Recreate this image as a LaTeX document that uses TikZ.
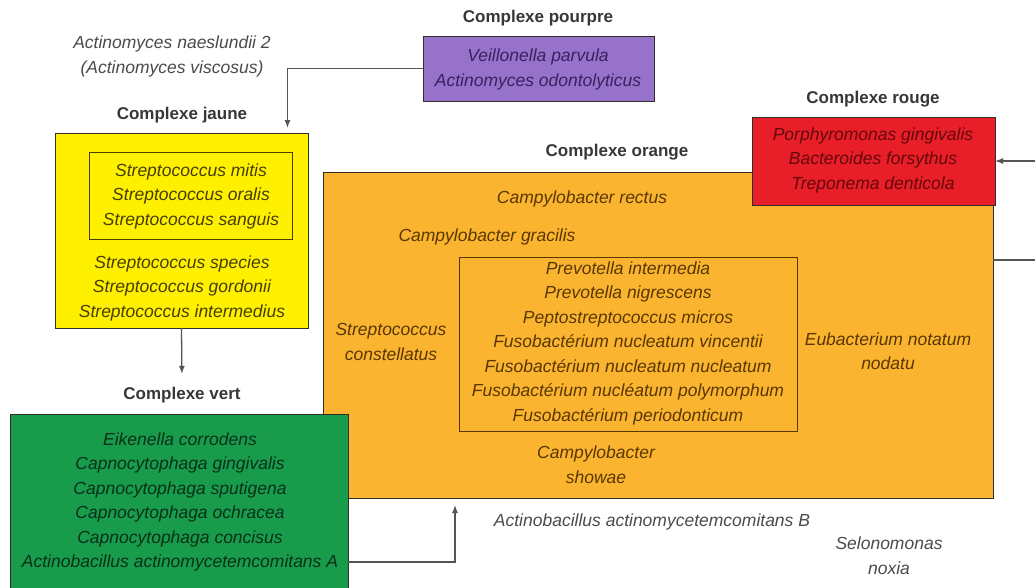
\documentclass[tikz,border=0pt]{standalone}
\usepackage{fontspec}
\setmainfont{Liberation Sans}
\usetikzlibrary{arrows.meta,calc}
\definecolor{cpurple}{RGB}{150,114,202}
\definecolor{cyellow}{RGB}{255,240,0}
\definecolor{corange}{RGB}{251,180,48}
\definecolor{cred}{RGB}{232,30,40}
\definecolor{cgreen}{RGB}{24,156,76}
\definecolor{tpurple}{RGB}{60,32,95}
\definecolor{tred}{RGB}{100,8,10}
\definecolor{tyellow}{RGB}{70,62,0}
\definecolor{torange}{RGB}{88,55,0}
\definecolor{tgreen}{RGB}{8,48,24}
\definecolor{tgray}{RGB}{75,75,75}
\definecolor{ttitle}{RGB}{55,55,55}
\definecolor{cborder}{RGB}{50,45,40}
\definecolor{cline}{RGB}{85,85,85}
\tikzset{
  box/.style={draw=cborder, line width=1pt, anchor=north west, inner sep=0pt, outer sep=0pt},
  lbl/.style={font=\fontsize{17.5}{24.5}\selectfont\itshape, align=center, inner sep=0pt},
  ttl/.style={font=\fontsize{17}{20}\selectfont\bfseries, text=ttitle, inner sep=0pt},
  conn/.style={draw=cline, line width=1.3pt, -{Latex[length=8pt,width=6pt]}},
  plain/.style={draw=cline, line width=1.3pt}
}
\begin{document}
\begin{tikzpicture}[x=1pt,y=-1pt]
\clip (0,0) rectangle (1035,587);
\fill[white] (0,0) rectangle (1035,587);

% boxes
\node[box, fill=cpurple, minimum width=231pt, minimum height=65pt] (pourpre) at (423,36) {};
\node[box, fill=cyellow, minimum width=253pt, minimum height=195pt] (jaune) at (55,133) {};
\node[box, draw=tyellow, line width=0.9pt, minimum width=203pt, minimum height=87pt] (jauneint) at (89,152) {};
\node[box, fill=corange, minimum width=670pt, minimum height=326pt] (orange) at (323,172) {};
\node[box, draw=torange, line width=0.9pt, minimum width=338pt, minimum height=174pt] (orangeint) at (459,257) {};
\node[box, fill=cred, minimum width=243pt, minimum height=88pt] (rouge) at (752,117) {};
\node[box, fill=cgreen, minimum width=338pt, minimum height=185pt] (vert) at (10,414) {};

% titles
\node[ttl] (tpourpre) at (538,18) {Complexe pourpre};
\node[ttl] (tjaune) at (182,115) {Complexe jaune};
\node[ttl] (torangeT) at (617,152) {Complexe orange};
\node[ttl] (trouge) at (873,99) {Complexe rouge};
\node[ttl] (tvert) at (182,395) {Complexe vert};

% texts
\node[lbl, text=tgray] (naes) at (172,56.5) {Actinomyces naeslundii 2\\(Actinomyces viscosus)};
\node[lbl, text=tpurple] (lpourpre) at (538,69.5) {Veillonella parvula\\Actinomyces odontolyticus};
\node[lbl, text=tyellow] (ljaune1) at (191,196) {Streptococcus mitis\\Streptococcus oralis\\Streptococcus sanguis};
\node[lbl, text=tyellow] (ljaune2) at (182,288) {Streptococcus species\\Streptococcus gordonii\\Streptococcus intermedius};
\node[lbl, text=tred] (lrouge) at (873,160) {Porphyromonas gingivalis\\Bacteroides forsythus\\Treponema denticola};
\node[lbl, text=torange] (lrectus) at (582,199) {Campylobacter rectus};
\node[lbl, text=torange] (lgracilis) at (487,237) {Campylobacter gracilis};
\node[lbl, text=torange] (linner) at (628,343) {Prevotella intermedia\\Prevotella nigrescens\\Peptostreptococcus micros\\Fusobactérium nucleatum vincentii\\Fusobactérium nucleatum nucleatum\\Fusobactérium nucléatum polymorphum\\Fusobactérium periodonticum};
\node[lbl, text=torange] (lconst) at (391,342) {Streptococcus\\constellatus};
\node[lbl, text=torange] (leubac) at (888,351) {Eubacterium notatum\\nodatu};
\node[lbl, text=torange] (lshowae) at (596,464.5) {Campylobacter\\showae};
\node[lbl, text=tgreen] (lvert) at (180,502) {Eikenella corrodens\\Capnocytophaga gingivalis\\Capnocytophaga sputigena\\Capnocytophaga ochracea\\Capnocytophaga concisus\\Actinobacillus actinomycetemcomitans A};
\node[lbl, text=tgray] (lactB) at (652,522) {Actinobacillus actinomycetemcomitans B};
\node[lbl, text=tgray] (lselo) at (889,555.5) {Selonomonas\\noxia};

% connectors
\coordinate (rin) at (1045,161);
\coordinate (oout) at (1045,260);
\draw[conn, shorten >=5pt] (pourpre.west) -| ([xshift=106pt]jaune.north);
\draw[conn, shorten >=13pt] (jaune.south) -- (tvert.north);
\draw[conn, shorten >=7pt] (vert.east |- 0,562) -| (orange.south -| 455,0);
\draw[conn] (rin) -- (rouge.east);
\draw[plain] (orange.east |- oout) -- (oout);
\end{tikzpicture}
\end{document}
